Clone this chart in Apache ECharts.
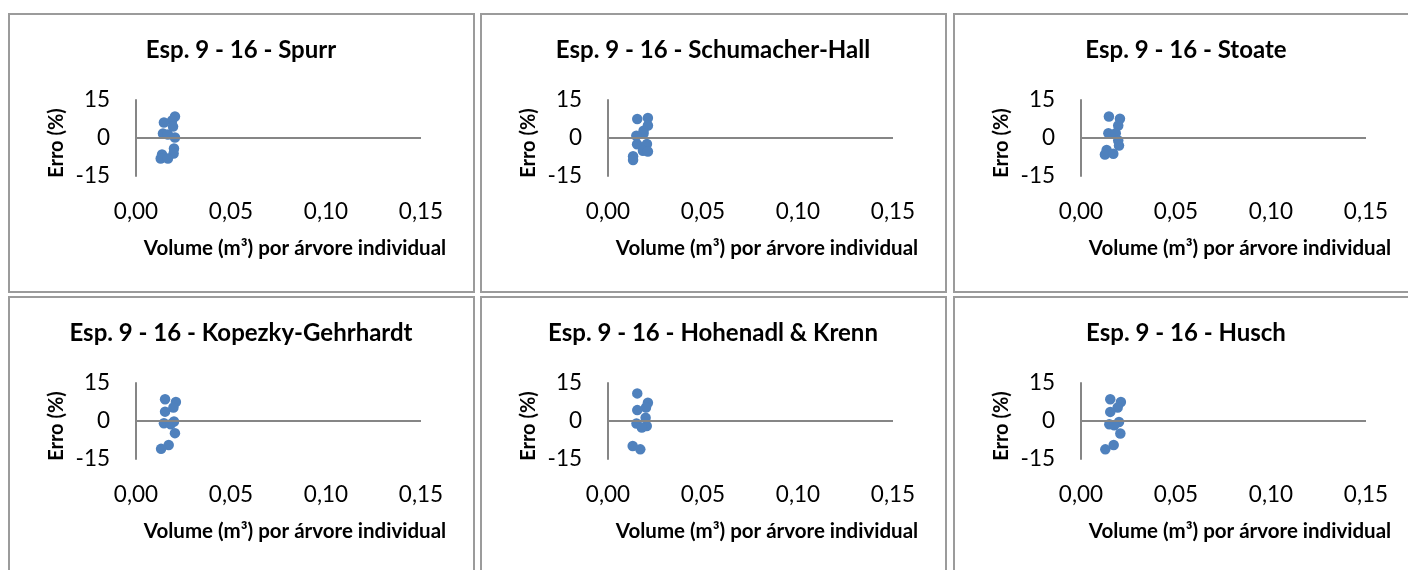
<!DOCTYPE html>
<html>
<head>
<meta charset="utf-8">
<script src="https://cdn.jsdelivr.net/npm/echarts@6/dist/echarts.min.js"></script>
<style>
  html, body { margin: 0; padding: 0; background: #ffffff; }
  body { width: 1408px; height: 570px; position: relative; overflow: hidden; }
  .panel { position: absolute; width: 467px; height: 280px; }
</style>
</head>
<body>
<div id="p0" class="panel" style="left:8px;top:13px"></div>
<div id="p1" class="panel" style="left:480px;top:13px"></div>
<div id="p2" class="panel" style="left:953px;top:13px"></div>
<div id="p3" class="panel" style="left:8px;top:296px"></div>
<div id="p4" class="panel" style="left:480px;top:296px"></div>
<div id="p5" class="panel" style="left:953px;top:296px"></div>
<script>
// ---- Data ----
const panelTitles = [
  'Esp. 9 - 16 - Spurr',
  'Esp. 9 - 16 - Schumacher-Hall',
  'Esp. 9 - 16 - Stoate',
  'Esp. 9 - 16 - Kopezky-Gehrhardt',
  'Esp. 9 - 16 - Hohenadl & Krenn',
  'Esp. 9 - 16 - Husch'
];
const xAxisTitle = 'Volume (m³) por árvore individual';
const yAxisTitle = 'Erro (%)';
const xTicks = [0, 0.05, 0.10, 0.15];
const yTicks = [-15, 0, 15];

// [volume (m³), erro (%)]
const spurrPoints = [
  [0.0205, 8.5], [0.0190, 6.9], [0.0147, 6.1], [0.0195, 4.5],
  [0.0142, 1.8], [0.0168, 1.4], [0.0205, 0.2], [0.0200, -4.1],
  [0.0198, -6.1], [0.0137, -6.5], [0.0130, -8.1], [0.0168, -8.1]
];
const schumacherPoints = [
  [0.0154, 7.5], [0.0210, 7.9], [0.0210, 4.9], [0.0187, 2.9],
  [0.0187, 1.8], [0.0149, 0.9], [0.0153, -2.5], [0.0205, -2.4],
  [0.0184, -5.0], [0.0210, -5.3], [0.0132, -7.2], [0.0132, -8.7]
];
const stoatePoints = [
  [0.0147, 8.5], [0.0205, 7.6], [0.0196, 4.9], [0.0144, 1.9],
  [0.0183, 1.9], [0.0196, -1.0], [0.0200, -3.0], [0.0135, -4.7],
  [0.0126, -6.5], [0.0170, -6.2]
];
const kopezkyPoints = [
  [0.0153, 8.6], [0.0210, 7.5], [0.0197, 5.3], [0.0153, 3.7],
  [0.0147, -0.9], [0.0200, -0.2], [0.0183, -1.3], [0.0205, -4.8],
  [0.0172, -9.5], [0.0132, -11.0]
];
const hohenadlPoints = [
  [0.0154, 10.9], [0.0210, 7.2], [0.0200, 5.3], [0.0154, 4.3],
  [0.0198, 1.3], [0.0150, -1.0], [0.0204, -2.0], [0.0178, -2.6],
  [0.0130, -9.9], [0.0170, -11.2]
];
const huschPoints = [
  [0.0154, 8.6], [0.0210, 7.5], [0.0193, 5.3], [0.0154, 3.6],
  [0.0149, -1.3], [0.0200, -0.4], [0.0175, -1.7], [0.0207, -4.9],
  [0.0172, -9.5], [0.0128, -11.2]
];
const panelPoints = [spurrPoints, schumacherPoints, stoatePoints, kopezkyPoints, hohenadlPoints, huschPoints];

// ---- Rendering ----
const FONT = 'Lato, "Open Sans", sans-serif';
const AXIS_COLOR = '#868686';
const DOT_COLOR = '#4F81BD';

function fmtX(v) { return v.toFixed(2).replace('.', ','); }

panelPoints.forEach(function (pts, i) {
  const el = document.getElementById('p' + i);
  const chart = echarts.init(el, null, { renderer: 'canvas' });
  const W = 467, H = 280;
  chart.setOption({
    animation: false,
    grid: { left: 128, top: 87, width: 285, height: 76 },
    graphic: [
      { type: 'rect', silent: true, shape: { x: 1, y: 1, width: W - 2, height: H - 2 },
        style: { fill: 'none', stroke: '#9b9b9b', lineWidth: 2 } },
      { type: 'text', silent: true, x: 233, y: 37,
        style: { text: panelTitles[i], font: 'bold 24px ' + FONT, fill: '#000',
                 textAlign: 'center', textVerticalAlign: 'middle' } },
      { type: 'text', silent: true, x: 287, y: 235,
        style: { text: xAxisTitle, font: 'bold 20.5px ' + FONT, fill: '#000',
                 textAlign: 'center', textVerticalAlign: 'middle' } },
      { type: 'text', silent: true, x: 49, y: 130, rotation: Math.PI / 2,
        style: { text: yAxisTitle, font: 'bold 20px ' + FONT, fill: '#000',
                 textAlign: 'center', textVerticalAlign: 'middle' } }
    ],
    xAxis: {
      type: 'value',
      min: xTicks[0], max: xTicks[xTicks.length - 1], interval: xTicks[1] - xTicks[0],
      axisLine: { show: false }, axisTick: { show: false }, splitLine: { show: false },
      axisLabel: { margin: 24, color: '#000', fontFamily: FONT, fontSize: 22.5,
                   formatter: fmtX, showMinLabel: true, showMaxLabel: true }
    },
    yAxis: {
      type: 'value',
      min: yTicks[0], max: yTicks[yTicks.length - 1], interval: yTicks[1] - yTicks[0],
      axisLine: { show: true, onZero: false, lineStyle: { color: AXIS_COLOR, width: 2 } },
      axisTick: { show: false }, splitLine: { show: false },
      axisLabel: { margin: 26, color: '#000', fontFamily: FONT, fontSize: 22.5 }
    },
    series: [{
      type: 'scatter',
      data: pts,
      symbolSize: 10.5,
      itemStyle: { color: DOT_COLOR, opacity: 1 },
      markLine: {
        silent: true, symbol: 'none', animation: false,
        label: { show: false },
        lineStyle: { color: AXIS_COLOR, width: 2, type: 'solid' },
        data: [{ yAxis: 0 }]
      }
    }]
  });
});
</script>
</body>
</html>
